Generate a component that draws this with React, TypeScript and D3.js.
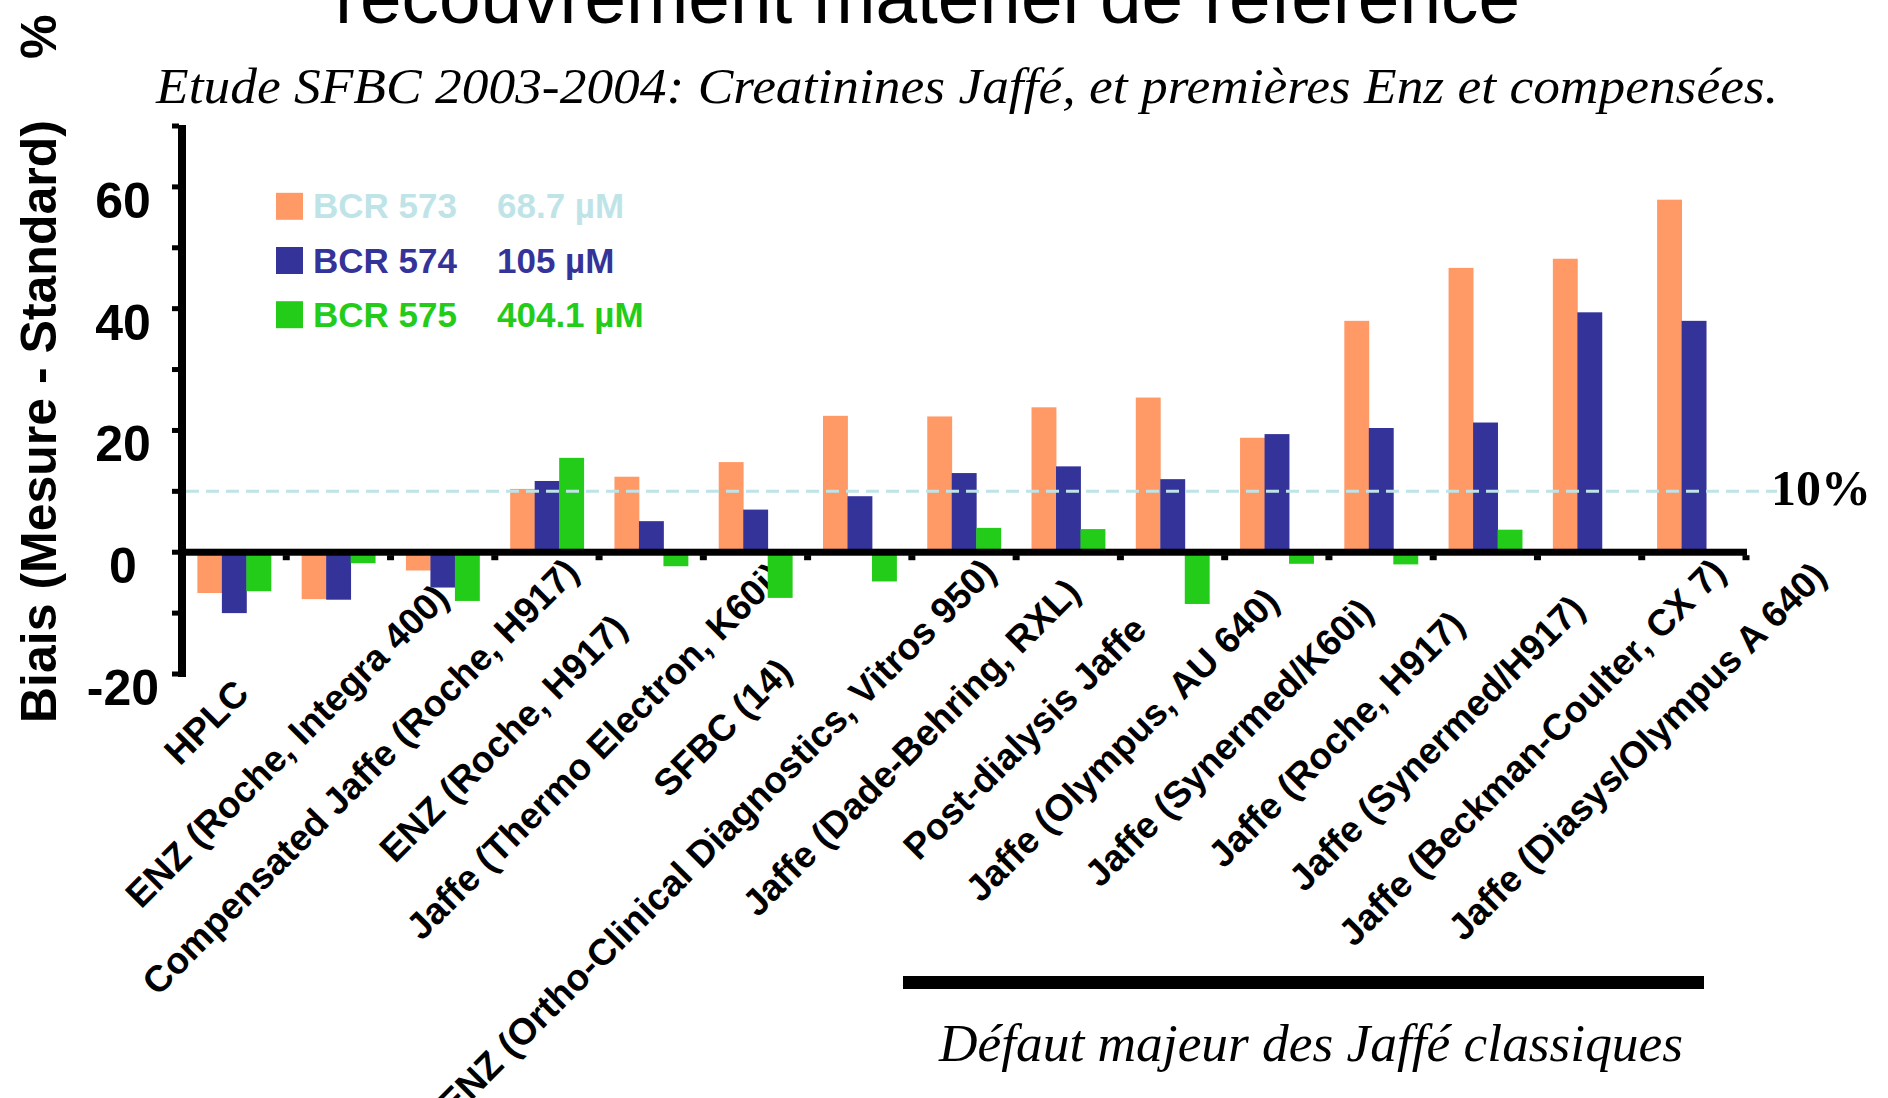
import React, { useEffect, useRef } from 'react';
import * as d3 from 'd3';

// categories (x axis), left to right
const categories = [
  'HPLC',
  'ENZ (Roche, Integra 400)',
  'Compensated Jaffe (Roche, H917)',
  'ENZ (Roche, H917)',
  'Jaffe (Thermo Electron, K60i)',
  'SFBC (14)',
  'ENZ (Ortho-Clinical Diagnostics, Vitros 950)',
  'Jaffe (Dade-Behring, RXL)',
  'Post-dialysis Jaffe',
  'Jaffe (Olympus, AU 640)',
  'Jaffe (Synermed/K60i)',
  'Jaffe (Roche, H917)',
  'Jaffe (Synermed/H917)',
  'Jaffe (Beckman-Coulter, CX 7)',
  'Jaffe (Diasys/Olympus A 640)',
];

// biais % per material
const bcr573 = [-6.7, -7.7, -3.0, 10.4, 12.4, 14.8, 22.4, 22.3, 23.8, 25.4, 18.8, 38.0, 46.7, 48.2, 57.9];
const bcr574 = [-10.0, -7.8, -5.8, 11.7, 5.1, 7.0, 9.2, 13.0, 14.1, 12.0, 19.4, 20.4, 21.3, 39.4, 38.0];
const bcr575 = [-6.4, -1.8, -8.0, 15.5, -2.3, -7.5, -4.8, 4.0, 3.8, -8.5, -1.9, -2.0, 3.7, 0, 0];

const seriesNames = ['BCR 573', 'BCR 574', 'BCR 575'];
const seriesConc = ['68.7 µM', '105 µM', '404.1 µM'];

const yMinorTicks = [-20, -10, 0, 10, 20, 30, 40, 50, 60, 70];
const yTickLabels = [60, 40, 20, 0, -20];
const refLine = 10;

const title = 'recouvrement matériel de référence';
const subtitle = 'Etude SFBC 2003-2004: Creatinines Jaffé, et premières Enz et compensées.';
const yTitle = 'Biais (Mesure - Standard)';
const bottomNote = 'Défaut majeur des Jaffé classiques';

const barColors = ['#ff9966', '#343399', '#22cc18'];
const legendTextColors = ['#bfe4e8', '#343399', '#22cc18'];
const sans = '"Liberation Sans", Arial, sans-serif';
const serif = '"Liberation Serif", "Times New Roman", serif';

const App = () => {
  const ref = useRef<SVGSVGElement>(null);

  useEffect(() => {
    document.body.style.margin = '0';
    document.body.style.overflow = 'hidden';

    const svg = d3.select(ref.current);
    svg.selectAll('*').remove();

    const width = 1888;
    const height = 1098;
    const axisX = 182;
    const axisRight = 1746;

    const y = d3.scaleLinear().domain([-20, 70]).range([674, 126]);
    const x0 = d3.scaleBand().domain(categories).range([axisX, axisRight]);
    const groupW = 73.5;
    const x1 = d3.scaleBand().domain(seriesNames).range([0, groupW]);

    svg.append('rect').attr('width', width).attr('height', height).attr('fill', '#fff');

    // title (top is cut by the frame)
    svg.append('text')
      .attr('x', 335).attr('y', 22.7)
      .attr('font-family', sans).attr('font-size', 75)
      .attr('textLength', 1185).attr('lengthAdjust', 'spacingAndGlyphs')
      .text(title);

    svg.append('text')
      .attr('x', 156).attr('y', 102.5)
      .attr('font-family', serif).attr('font-style', 'italic').attr('font-size', 50)
      .attr('textLength', 1622).attr('lengthAdjust', 'spacingAndGlyphs')
      .text(subtitle);

    // y title
    const yt = svg.append('text')
      .attr('transform', 'translate(56,723) rotate(-90)')
      .attr('font-family', sans).attr('font-weight', 'bold').attr('font-size', 50);
    yt.append('tspan').text(yTitle);
    yt.append('tspan').attr('dx', 61).text('%');

    // y tick labels
    svg.append('g')
      .selectAll('text')
      .data(yTickLabels)
      .join('text')
      .attr('x', 123)
      .attr('y', d => y(d) + 31)
      .attr('text-anchor', 'middle')
      .attr('font-family', sans).attr('font-weight', 'bold').attr('font-size', 50)
      .text(d => d);

    // legend
    const lg = svg.append('g');
    seriesNames.forEach((name, i) => {
      const base = 218.3 + i * 54.2;
      lg.append('rect')
        .attr('x', 276).attr('y', base - 25.5)
        .attr('width', 27).attr('height', 27)
        .attr('fill', barColors[i]);
      lg.append('text')
        .attr('x', 313).attr('y', base)
        .attr('font-family', sans).attr('font-weight', 'bold').attr('font-size', 35)
        .attr('fill', legendTextColors[i])
        .text(name);
      lg.append('text')
        .attr('x', 497).attr('y', base)
        .attr('font-family', sans).attr('font-weight', 'bold').attr('font-size', 35)
        .attr('fill', legendTextColors[i])
        .text(seriesConc[i]);
    });

    // category labels, rotated -45, centred; long ones pushed down clear of the axis
    const labelG = svg.append('g');
    const k = Math.SQRT1_2;
    categories.forEach(cat => {
      const gc = (x0(cat) as number) + x0.bandwidth() / 2;
      const t = labelG.append('text')
        .attr('text-anchor', 'middle')
        .attr('dy', '0.35em')
        .attr('font-family', sans).attr('font-weight', 'bold').attr('font-size', 37)
        .text(cat);
      const len = (t.node() as SVGTextElement).getComputedTextLength();
      const half = (len / 2) * k;
      const cy = Math.max(715 + 0.07 * len, 565 + half);
      const cx = gc + 694 - cy;
      t.attr('transform', `translate(${cx},${cy}) rotate(-45)`);
    });

    // bars
    const series = [bcr573, bcr574, bcr575];
    const barsG = svg.append('g');
    series.forEach((vals, s) => {
      barsG.append('g')
        .attr('fill', barColors[s])
        .selectAll('rect')
        .data(vals)
        .join('rect')
        .attr('x', (d, i) => (x0(categories[i]) as number) + (x0.bandwidth() - groupW) / 2 + (x1(seriesNames[s]) as number))
        .attr('y', d => y(Math.max(d, 0)))
        .attr('width', x1.bandwidth() + 0.4)
        .attr('height', d => Math.abs(y(d) - y(0)));
    });

    // 10% reference line
    svg.append('line')
      .attr('x1', axisX + 4).attr('x2', 1777)
      .attr('y1', y(refLine)).attr('y2', y(refLine))
      .attr('stroke', '#bfe4e8').attr('stroke-width', 3)
      .attr('stroke-dasharray', '13 7');

    svg.append('text')
      .attr('x', 1771).attr('y', y(refLine) + 14)
      .attr('font-family', serif).attr('font-weight', 'bold').attr('font-size', 50)
      .text('10%');

    // axes
    svg.append('rect')
      .attr('x', axisX - 4).attr('y', y(70) - 1)
      .attr('width', 8).attr('height', y(-20) - y(70) + 4)
      .attr('fill', '#000');
    svg.append('g')
      .selectAll('rect')
      .data(yMinorTicks)
      .join('rect')
      .attr('x', axisX - 10).attr('y', d => y(d) - 2.5)
      .attr('width', 7).attr('height', 5)
      .attr('fill', '#000');

    svg.append('rect')
      .attr('x', axisX - 4).attr('y', y(0) - 3.5)
      .attr('width', axisRight - axisX + 5).attr('height', 7)
      .attr('fill', '#000');
    svg.append('g')
      .selectAll('rect')
      .data(categories)
      .join('rect')
      .attr('x', d => (x0(d) as number) + x0.bandwidth() - 3.5)
      .attr('y', y(0) + 3)
      .attr('width', 7).attr('height', 5)
      .attr('fill', '#000');

    // bottom bracket and note
    svg.append('rect')
      .attr('x', 903).attr('y', 976)
      .attr('width', 801).attr('height', 13)
      .attr('fill', '#000');
    svg.append('text')
      .attr('x', 939).attr('y', 1061)
      .attr('font-family', serif).attr('font-style', 'italic').attr('font-size', 52)
      .attr('textLength', 744).attr('lengthAdjust', 'spacingAndGlyphs')
      .text(bottomNote);
  }, []);

  return <svg ref={ref} width={1888} height={1098} style={{ display: 'block' }} />;
};

export default App;
